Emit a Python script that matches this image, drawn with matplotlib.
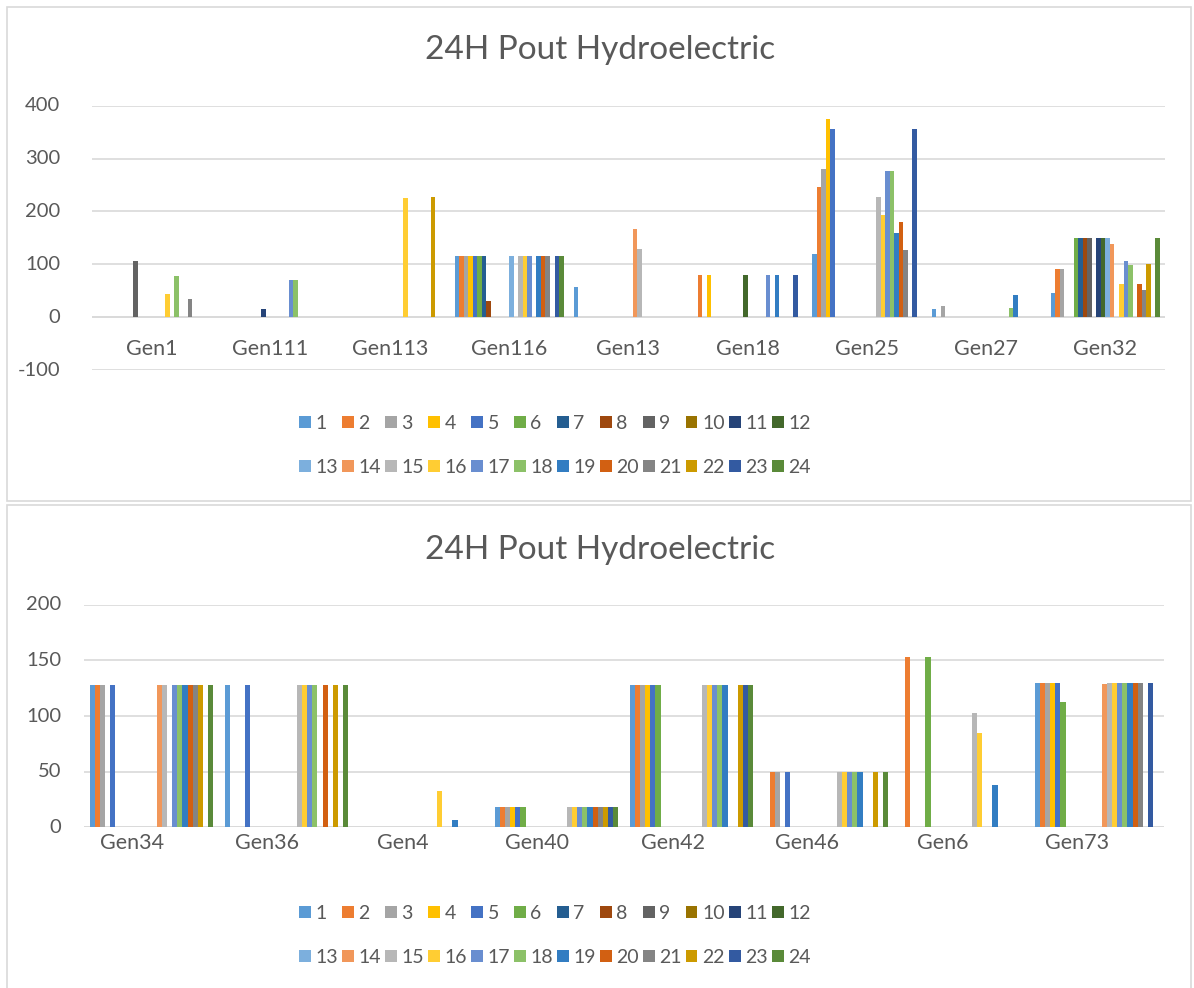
import numpy as np
import matplotlib
matplotlib.use("Agg")
import matplotlib.pyplot as plt
from matplotlib.patches import Rectangle
from matplotlib.transforms import ScaledTranslation

plt.rcParams['font.family'] = ['Lato', 'DejaVu Sans']

# Excel Office palette for the 24 hourly series
colors = ['#5B9BD5', '#ED7D31', '#A5A5A5', '#FFC000', '#4472C4', '#70AD47',
          '#255E91', '#9E480E', '#636363', '#997300', '#264478', '#43682B',
          '#7CAFDD', '#F1975A', '#B7B7B7', '#FFCD33', '#698ED0', '#8CC168',
          '#327DC2', '#D26012', '#848484', '#CC9A00', '#335AA1', '#5A8A39']
hours = [str(h) for h in range(1, 25)]

# top chart: values per generator, hours 1..24
top_cats = ['Gen1', 'Gen111', 'Gen113', 'Gen116', 'Gen13', 'Gen18', 'Gen25', 'Gen27', 'Gen32']
gen1 = [0, 0, 0, 0, 0, 0, 0, 0, 107, 0, 0, 0, 0, 0, 0, 44, 0, 77, 0, 0, 34, 0, 0, 0]
gen111 = [0, 0, 0, 0, 0, 0, 0, 0, 0, 0, 15, 0, 0, 0, 0, 0, 70, 70, 0, 0, 0, 0, 0, 0]
gen113 = [0, 0, 0, 0, 0, 0, 0, 0, 0, 0, 0, 0, 0, 0, 0, 225, 0, 0, 0, 0, 0, 227, 0, 0]
gen116 = [115, 115, 115, 115, 115, 115, 115, 30, 0, 0, 0, 0, 115, 0, 115, 115, 115, 0, 115, 115, 115, 0, 115, 115]
gen13 = [57, 0, 0, 0, 0, 0, 0, 0, 0, 0, 0, 0, 0, 166, 128, 0, 0, 0, 0, 0, 0, 0, 0, 0]
gen18 = [0, 80, 0, 80, 0, 0, 0, 0, 0, 0, 0, 80, 0, 0, 0, 0, 80, 0, 80, 0, 0, 0, 80, 0]
gen25 = [119, 247, 281, 375, 355, 0, 0, 0, 0, 0, 0, 0, 0, 0, 228, 193, 277, 277, 160, 180, 127, 0, 355, 0]
gen27 = [15, 0, 21, 0, 0, 0, 0, 0, 0, 0, 0, 0, 0, 0, 0, 0, 0, 17, 41, 0, 0, 0, 0, 0]
gen32 = [45, 92, 91, 0, 0, 150, 150, 150, 150, 0, 150, 150, 150, 138, 0, 63, 107, 98, 0, 63, 52, 101, 0, 150]
top_vals = [gen1, gen111, gen113, gen116, gen13, gen18, gen25, gen27, gen32]

# bottom chart
bot_cats = ['Gen34', 'Gen36', 'Gen4', 'Gen40', 'Gen42', 'Gen46', 'Gen6', 'Gen73']
gen34 = [128, 128, 128, 0, 128, 0, 0, 0, 0, 0, 0, 0, 0, 128, 128, 0, 128, 128, 128, 128, 128, 128, 0, 128]
gen36 = [128, 0, 0, 0, 128, 0, 0, 0, 0, 0, 0, 0, 0, 0, 128, 128, 128, 128, 0, 128, 0, 128, 0, 128]
gen4 = [0, 0, 0, 0, 0, 0, 0, 0, 0, 0, 0, 0, 0, 0, 0, 33, 0, 0, 7, 0, 0, 0, 0, 0]
gen40 = [18.5, 18.5, 18.5, 18.5, 18.5, 18.5, 0, 0, 0, 0, 0, 0, 0, 0, 18.5, 18.5, 18.5, 18.5, 18.5, 18.5, 18.5, 18.5, 18.5, 18.5]
gen42 = [128, 128, 128, 128, 128, 128, 0, 0, 0, 0, 0, 0, 0, 0, 128, 128, 128, 128, 128, 0, 0, 128, 128, 128]
gen46 = [0, 50, 50, 0, 50, 0, 0, 0, 0, 0, 0, 0, 0, 0, 50, 50, 50, 50, 50, 0, 0, 50, 0, 50]
gen6 = [0, 153, 0, 0, 0, 153, 0, 0, 0, 0, 0, 0, 0, 0, 103, 85, 0, 0, 38, 0, 0, 0, 0, 0]
gen73 = [130, 130, 130, 130, 130, 113, 0, 0, 0, 0, 0, 0, 0, 129, 130, 130, 130, 130, 130, 130, 130, 0, 130, 0]
bot_vals = [gen34, gen36, gen4, gen40, gen42, gen46, gen6, gen73]

W, H = 1194, 988
fig = plt.figure(figsize=(W / 100, H / 100), dpi=100)
txt = '#595959'
grid = '#D9D9D9'

# chart frames
for y0, y1 in [(7, 501), (505, 990)]:
    fig.patches.append(Rectangle((7 / W, 1 - y1 / H), 1184 / W, (y1 - y0) / H,
                                 transform=fig.transFigure, fill=False,
                                 edgecolor=grid, linewidth=1.2))


def draw(ax, cats, vals, ylim, step, lab_dx, lab_dy, ypad):
    data = np.array(vals)
    n = len(cats)
    x = np.arange(n)
    w = 0.915 / 24
    bars = []
    for i in range(24):
        b = ax.bar(x - 0.4575 + (i + 0.5) * w, data[:, i], width=w,
                   color=colors[i], label=hours[i], zorder=3)
        bars.append(b)
    ax.set_xlim(-0.5, n - 0.5)
    ax.set_ylim(*ylim)
    yt = np.arange(ylim[0], ylim[1] + 1, step)
    ax.set_yticks(yt)
    ax.set_yticklabels([])
    ax.grid(axis='y', color=grid, linewidth=1.2, zorder=0)
    ax.axhline(0, color=grid, linewidth=1.2, zorder=1)
    for s in ax.spines.values():
        s.set_visible(False)
    ax.set_xticks([])
    ax.tick_params(axis='y', length=0)
    # y labels drawn as text so they sit where Excel puts them
    yoff = ScaledTranslation(-ypad / 100, 0, fig.dpi_scale_trans)
    for v in yt:
        ax.text(0, v, str(int(v)), transform=ax.get_yaxis_transform() + yoff,
                ha='right', va='center', fontsize=14.5, color=txt)
    off = ScaledTranslation(lab_dx / 100, -lab_dy / 100, fig.dpi_scale_trans)
    for xi, c in zip(x, cats):
        ax.text(xi, 0, c, transform=ax.transData + off, ha='center', va='center',
                fontsize=15.5, color=txt)
    return bars


def legend(bars, yc):
    order = []
    for k in range(12):
        order += [k, k + 12]
    fig.legend([bars[k] for k in order], [hours[k] for k in order],
               loc='center', bbox_to_anchor=(555 / W, 1 - yc / H), ncol=12,
               frameon=False, fontsize=14, labelcolor=txt, borderpad=0,
               handlelength=0.6, handleheight=0.6, handletextpad=0.25,
               columnspacing=0.2, labelspacing=1.4)


ax1 = fig.add_axes([91.7 / W, 1 - 370 / H, (1165 - 91.7) / W, (370 - 105.7) / H])
b1 = draw(ax1, top_cats, top_vals, (-100, 400), 100, 0, 31.5, 31.5)
fig.text(600 / W, 1 - 50 / H, '24H Pout Hydroelectric', ha='center', va='center',
         fontsize=24, color=txt)
legend(b1, 445.5)

ax2 = fig.add_axes([84 / W, 1 - 827.3 / H, 1080 / W, (827.3 - 604.7) / H])
b2 = draw(ax2, bot_cats, bot_vals, (0, 200), 50, -19, 16, 23)
fig.text(600 / W, 1 - 550 / H, '24H Pout Hydroelectric', ha='center', va='center',
         fontsize=24, color=txt)
legend(b2, 935.5)

fig.savefig('out.png', dpi=100, facecolor='white')
